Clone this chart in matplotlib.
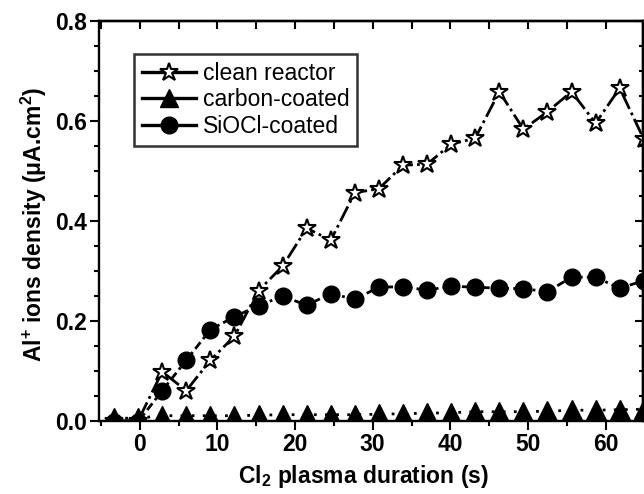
import numpy as np
import matplotlib
matplotlib.use("Agg")
import matplotlib.pyplot as plt
from matplotlib.lines import Line2D
from matplotlib.ticker import MultipleLocator, FormatStrFormatter

plt.rcParams['font.family'] = ['Liberation Sans', 'DejaVu Sans']
plt.rcParams['font.weight'] = 'bold'
plt.rcParams['mathtext.fontset'] = 'custom'
plt.rcParams['mathtext.rm'] = 'Liberation Sans:bold'
plt.rcParams['mathtext.bf'] = 'Liberation Sans:bold'
plt.rcParams['mathtext.it'] = 'Liberation Sans:bold:italic'

# ---- data ----
time_s = [-3.3, -0.2, 2.9, 6.0, 9.1, 12.2, 15.3, 18.4, 21.5, 24.6, 27.7, 30.8,
          33.9, 37.0, 40.1, 43.2, 46.3, 49.4, 52.5, 55.6, 58.7, 61.8, 64.9]
clean_reactor = [0.000, 0.000, 0.098, 0.060, 0.121, 0.169, 0.260, 0.309, 0.385, 0.361,
                 0.456, 0.464, 0.511, 0.513, 0.553, 0.565, 0.658, 0.583, 0.618,
                 0.658, 0.595, 0.665, 0.563]
carbon_coated = [0.005, 0.005, 0.010, 0.010, 0.010, 0.010, 0.011, 0.012, 0.012, 0.012,
                 0.012, 0.013, 0.014, 0.015, 0.016, 0.018, 0.018, 0.018, 0.019,
                 0.021, 0.021, 0.022, 0.023]
sioc_coated = [-0.002, -0.002, 0.060, 0.121, 0.182, 0.208, 0.230, 0.249, 0.231, 0.254,
               0.243, 0.267, 0.268, 0.261, 0.269, 0.267, 0.265, 0.264, 0.258,
               0.287, 0.287, 0.265, 0.280]
labels = ['clean reactor', 'carbon-coated', 'SiOCl-coated']

fig = plt.figure(figsize=(6.44, 4.94), dpi=100)
ax = fig.add_axes([99.3 / 644, 73.3 / 494, 543.7 / 644, 400 / 494])

ax.plot(time_s, clean_reactor, color='black', lw=2.0, ls=(0, (6, 1.5, 1, 1.5)),
        marker='*', ms=13.5, mfc='white', mec='black', mew=1.5)
ax.plot(time_s, carbon_coated, color='black', lw=2.0, ls=(0, (1, 3)),
        marker='^', ms=15, mfc='black', mec='black')
ax.plot(time_s, sioc_coated, color='black', lw=2.0, ls=(0, (3, 1.5, 1, 1.5)),
        marker='o', ms=12, mfc='black', mec='black')

ax.set_xlim(-5.2, 64.8)
ax.set_ylim(0.0, 0.8)

ax.xaxis.set_major_locator(MultipleLocator(10))
ax.xaxis.set_minor_locator(MultipleLocator(5))
ax.yaxis.set_major_locator(MultipleLocator(0.2))
ax.yaxis.set_minor_locator(MultipleLocator(0.05))
ax.yaxis.set_major_formatter(FormatStrFormatter('%.1f'))

for sp in ax.spines.values():
    sp.set_linewidth(1.7)

ax.tick_params(axis='both', which='major', direction='out', length=6.2, width=1.5,
               labelsize=16.5, pad=3)
ax.tick_params(axis='both', which='minor', direction='out', length=3.4, width=1.5)
ax.tick_params(top=False, right=False)

secx = ax.secondary_xaxis('top')
secx.xaxis.set_major_locator(MultipleLocator(5))
secx.tick_params(axis='x', which='major', direction='in', length=6, width=1.5,
                 labeltop=False)
secx.spines['top'].set_linewidth(1.7)

secy = ax.secondary_yaxis('right')
secy.yaxis.set_major_locator(MultipleLocator(0.2))
secy.yaxis.set_minor_locator(MultipleLocator(0.05))
secy.tick_params(axis='y', which='major', direction='in', length=5.5, width=1.5,
                 labelright=False)
secy.tick_params(axis='y', which='minor', direction='in', length=2.6, width=1.5)
secy.spines['right'].set_linewidth(1.7)

ax.set_xlabel(r'Cl$_{\mathbf{2}}$ plasma duration (s)', fontsize=16.5, fontweight='bold')
ax.set_ylabel(r'Al$^{\mathbf{+}}$ ions density ($\mathbf{\mu}$A.cm$^{\mathbf{2}}$)',
              fontsize=16.5, fontweight='bold')
ax.xaxis.set_label_coords(0.485, -0.105)
ax.yaxis.set_label_coords(-0.092, 0.49)

handles = [
    Line2D([], [], color='black', lw=2.4, marker='*', ms=13.5, mfc='white', mec='black', mew=1.5),
    Line2D([], [], color='black', lw=2.4, marker='^', ms=13, mfc='black', mec='black'),
    Line2D([], [], color='black', lw=2.4, marker='o', ms=12, mfc='black', mec='black'),
]
leg = ax.legend(handles, labels, loc='upper left',
                bbox_to_anchor=((134 - 99.3) / 543.7, (420.7 - 54) / 400),
                borderaxespad=0, frameon=True, fancybox=False, shadow=False,
                prop={'family': 'Liberation Sans', 'weight': 'normal', 'size': 16.5},
                handlelength=2.35, handletextpad=0.3, borderpad=0.35,
                labelspacing=0.15)
leg.get_frame().set_edgecolor('black')
leg.get_frame().set_linewidth(1.8)

fig.savefig('out.png', dpi=100)
